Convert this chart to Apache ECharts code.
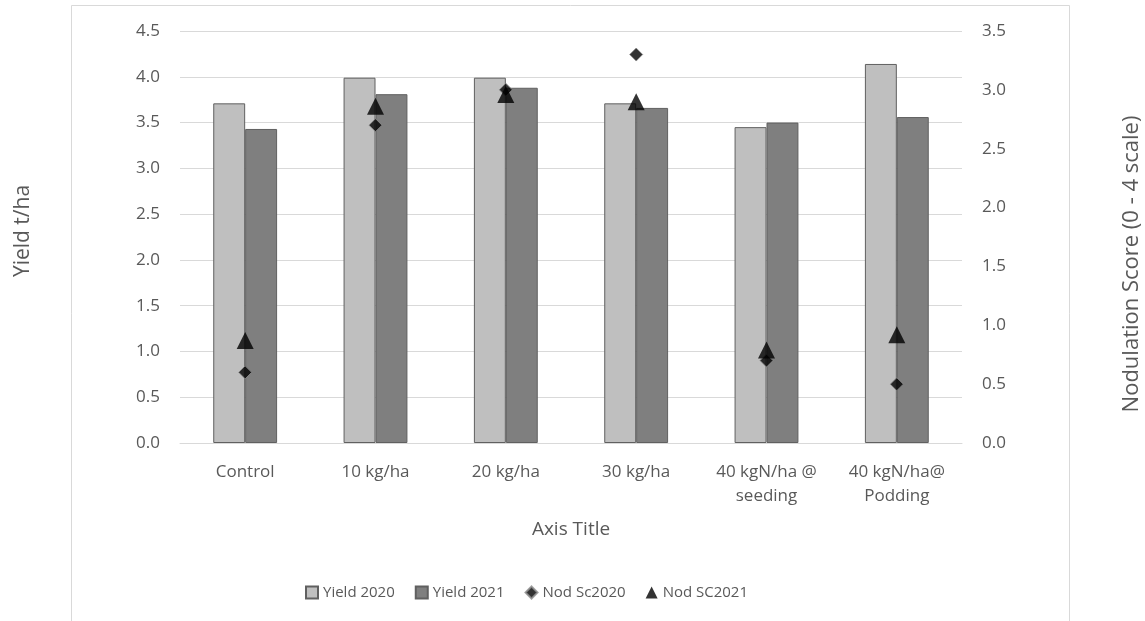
<!DOCTYPE html>
<html>
<head>
<meta charset="utf-8">
<script src="https://cdn.jsdelivr.net/npm/echarts@6/dist/echarts.min.js"></script>
<style>
html,body{margin:0;padding:0;background:#fff;}
#c{width:1145px;height:621px;}
</style>
</head>
<body>
<div id="c"></div>
<script>
const categories = ['Control', '10 kg/ha', '20 kg/ha', '30 kg/ha', '40 kgN/ha @\nseeding', '40 kgN/ha@\nPodding'];
const yield2020 = [3.71, 3.99, 3.99, 3.71, 3.45, 4.14];
const yield2021 = [3.43, 3.81, 3.88, 3.66, 3.50, 3.56];
const nodSc2020 = [0.6, 2.7, 3.0, 3.3, 0.7, 0.5];
const nodSc2021 = [0.87, 2.86, 2.96, 2.9, 0.79, 0.92];
const leftTicks = { min: 0, max: 4.5, interval: 0.5 };
const rightTicks = { min: 0, max: 3.5, interval: 0.5 };

const FONT = 'Open Sans';
const TXT = '#595959';
const chart = echarts.init(document.getElementById('c'));
chart.setOption({
  backgroundColor: '#fff',
  textStyle: { fontFamily: FONT },
  graphic: [{
    type: 'rect', shape: { x: 71.5, y: 5.5, width: 998, height: 640 },
    style: { fill: 'none', stroke: '#D9D9D9', lineWidth: 1 }, silent: true, z: -1
  }],
  grid: { left: 180, right: 183, top: 31, bottom: 178, containLabel: false, outerBoundsMode: 'none' },
  legend: {
    left: 300, top: 580, itemGap: 20, itemWidth: 12, itemHeight: 12,
    textStyle: { color: TXT, fontSize: 15, fontFamily: FONT },
    data: [
      { name: 'Yield 2020', icon: 'rect' },
      { name: 'Yield 2021', icon: 'rect' },
      { name: 'Nod Sc2020', icon: 'diamond' },
      { name: 'Nod SC2021', icon: 'triangle' }
    ]
  },
  xAxis: {
    type: 'category', data: categories,
    name: 'Axis Title', nameLocation: 'middle', nameGap: 77,
    nameTextStyle: { color: TXT, fontSize: 19, fontFamily: FONT },
    axisLine: { show: true, lineStyle: { color: '#D9D9D9', width: 1 } },
    axisTick: { show: false },
    axisLabel: { color: TXT, fontSize: 17, margin: 17, lineHeight: 24, fontFamily: FONT, interval: 0 }
  },
  yAxis: [{
    type: 'value', min: leftTicks.min, max: leftTicks.max, interval: leftTicks.interval,
    name: 'Yield t/ha', nameLocation: 'middle', nameGap: 146,
    nameTextStyle: { color: TXT, fontSize: 21, fontFamily: FONT, padding: [0, 0, 0, 12] },
    axisLine: { show: false }, axisTick: { show: false },
    axisLabel: { color: TXT, fontSize: 17, margin: 20, fontFamily: FONT, formatter: v => v.toFixed(1) },
    splitLine: { lineStyle: { color: '#D9D9D9', width: 1 } }
  }, {
    type: 'value', min: rightTicks.min, max: rightTicks.max, interval: rightTicks.interval,
    name: 'Nodulation Score (0 - 4 scale)', nameLocation: 'middle', nameGap: 159,
    nameTextStyle: { color: TXT, fontSize: 22, fontFamily: FONT, padding: [0, 54, 0, 0] },
    axisLine: { show: false }, axisTick: { show: false },
    axisLabel: { color: TXT, fontSize: 17, margin: 20, fontFamily: FONT, formatter: v => v.toFixed(1) },
    splitLine: { show: false }
  }],
  series: [{
    name: 'Yield 2020', type: 'bar', data: yield2020, yAxisIndex: 0,
    barGap: '0%', barCategoryGap: '51%',
    itemStyle: { color: '#BFBFBF', borderColor: '#606060', borderWidth: 1 }
  }, {
    name: 'Yield 2021', type: 'bar', data: yield2021, yAxisIndex: 0,
    itemStyle: { color: '#7F7F7F', borderColor: '#606060', borderWidth: 1 }
  }, {
    name: 'Nod Sc2020', type: 'scatter', data: nodSc2020, yAxisIndex: 1,
    symbol: 'diamond', symbolSize: 13, z: 5,
    itemStyle: { color: '#000', borderColor: '#8C8C8C', borderWidth: 1 }
  }, {
    name: 'Nod SC2021', type: 'scatter', data: nodSc2021, yAxisIndex: 1,
    symbol: 'triangle', symbolSize: 17, z: 6,
    itemStyle: { color: '#000' }
  }]
});
</script>
</body>
</html>
